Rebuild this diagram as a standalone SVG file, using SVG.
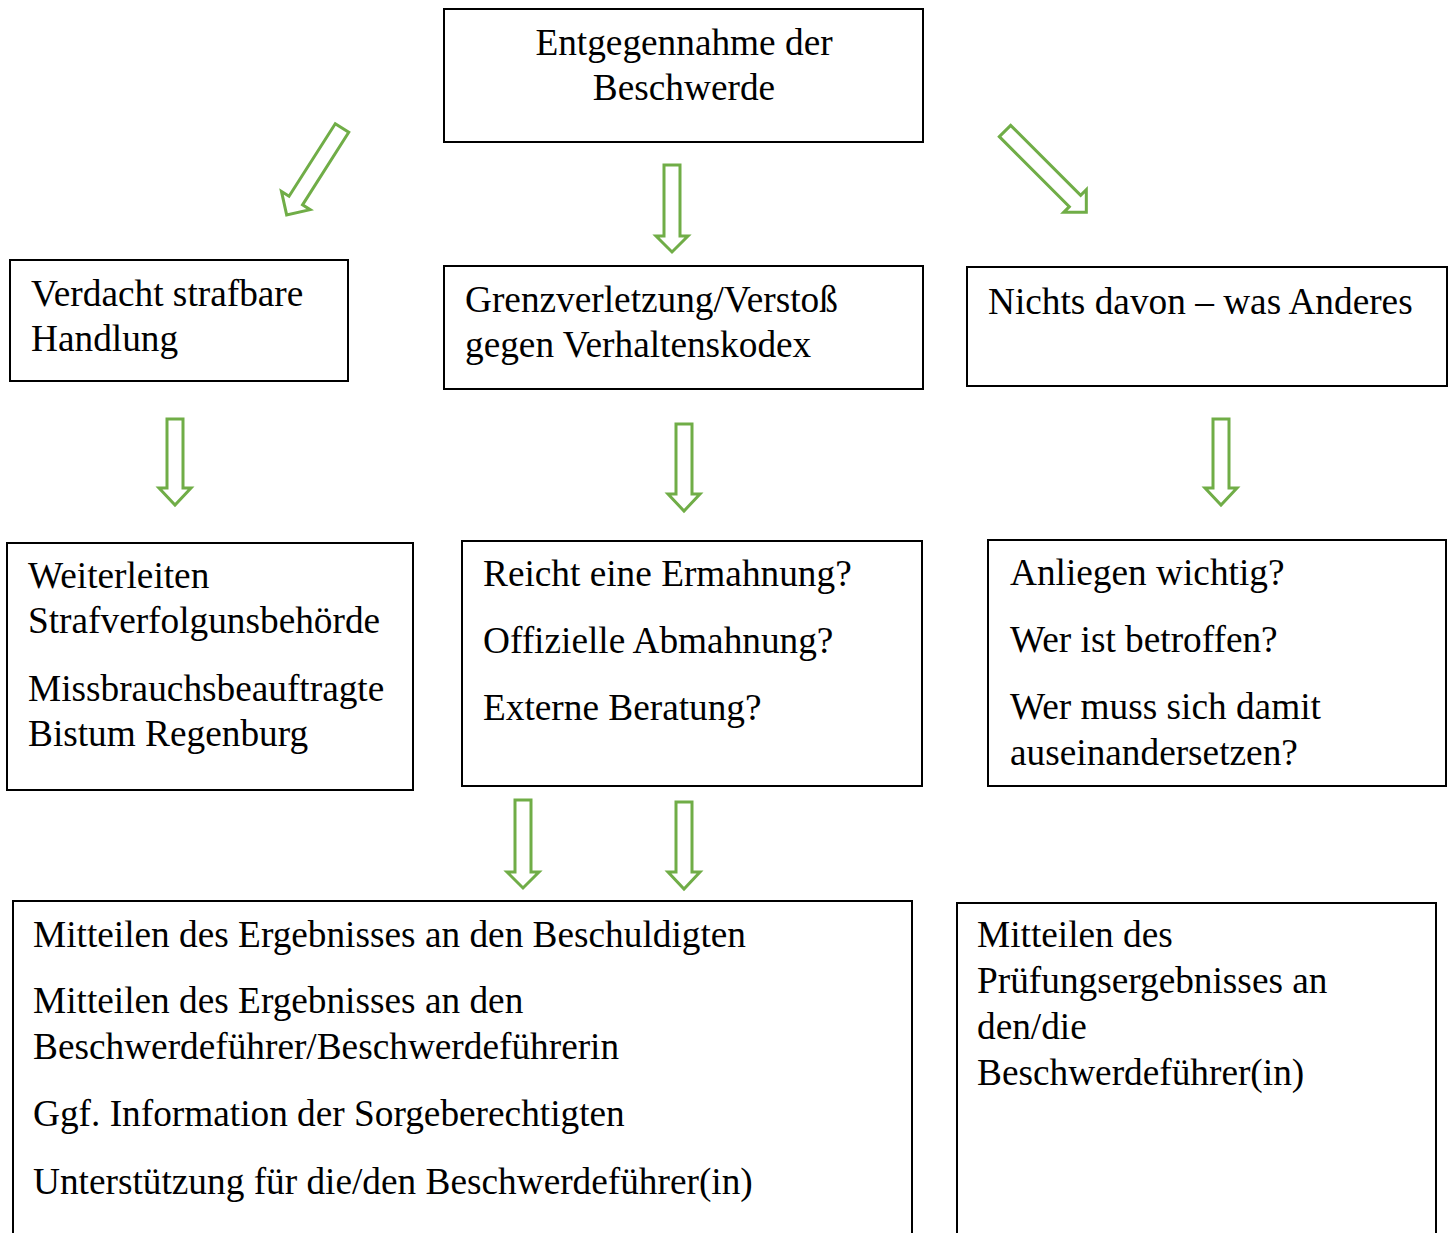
<svg xmlns="http://www.w3.org/2000/svg" width="1448" height="1233" viewBox="0 0 1448 1233">
<defs>
<style>
.box{fill:#fff;stroke:#000;stroke-width:2}
.t{font-family:"Liberation Serif","Times New Roman",serif;font-size:37.3px;fill:#000}
.arr{fill:#fff;stroke:#70ad47;stroke-width:3;stroke-linejoin:miter}
</style>
</defs>
<rect width="1448" height="1233" fill="#fff"/>
<g id="connectors">
<path class="arr" transform="translate(342,128) rotate(32.5)" d="M-8,0 L8,0 L8,86 L17,86 L0,103 L-17,86 L-8,86 Z"/>
<path class="arr" transform="translate(672,165)" d="M-8,0 L8,0 L8,71 L16,71 L0,87 L-16,71 L-8,71 Z"/>
<path class="arr" transform="translate(1005,131) rotate(-45)" d="M-8,0 L8,0 L8,99 L16,99 L0,115 L-16,99 L-8,99 Z"/>
<path class="arr" transform="translate(175,419)" d="M-8,0 L8,0 L8,69 L16,69 L0,86 L-16,69 L-8,69 Z"/>
<path class="arr" transform="translate(684,424)" d="M-8,0 L8,0 L8,70 L16,70 L0,87 L-16,70 L-8,70 Z"/>
<path class="arr" transform="translate(1221,419)" d="M-8,0 L8,0 L8,69 L16,69 L0,86 L-16,69 L-8,69 Z"/>
<path class="arr" transform="translate(523,800)" d="M-8,0 L8,0 L8,72 L16,72 L0,88 L-16,72 L-8,72 Z"/>
<path class="arr" transform="translate(684,802)" d="M-8,0 L8,0 L8,70 L16,70 L0,87 L-16,70 L-8,70 Z"/>
</g>
<g id="n_entgegennahme">
<rect class="box" x="444" y="9" width="479" height="133"/>
<text class="t" x="684" y="55" text-anchor="middle">Entgegennahme der</text>
<text class="t" x="684" y="100" text-anchor="middle">Beschwerde</text>
</g>
<g id="n_verdacht">
<rect class="box" x="10" y="260" width="338" height="121"/>
<text class="t" x="31" y="306">Verdacht strafbare</text>
<text class="t" x="31" y="351">Handlung</text>
</g>
<g id="n_grenz">
<rect class="box" x="444" y="266" width="479" height="123"/>
<text class="t" x="465" y="312">Grenzverletzung/Verstoß</text>
<text class="t" x="465" y="357">gegen Verhaltenskodex</text>
</g>
<g id="n_nichts">
<rect class="box" x="967" y="267" width="480" height="119"/>
<text class="t" x="988" y="314">Nichts davon – was Anderes</text>
</g>
<g id="n_weiterleiten">
<rect class="box" x="7" y="543" width="406" height="247"/>
<text class="t" x="28" y="588">Weiterleiten</text>
<text class="t" x="28" y="633">Strafverfolgunsbehörde</text>
<text class="t" x="28" y="701">Missbrauchsbeauftragte</text>
<text class="t" x="28" y="746">Bistum Regenburg</text>
</g>
<g id="n_reicht">
<rect class="box" x="462" y="541" width="460" height="245"/>
<text class="t" x="483" y="586">Reicht eine Ermahnung?</text>
<text class="t" x="483" y="653">Offizielle Abmahnung?</text>
<text class="t" x="483" y="720">Externe Beratung?</text>
</g>
<g id="n_anliegen">
<rect class="box" x="988" y="540" width="458" height="246"/>
<text class="t" x="1010" y="585">Anliegen wichtig?</text>
<text class="t" x="1010" y="652">Wer ist betroffen?</text>
<text class="t" x="1010" y="719">Wer muss sich damit</text>
<text class="t" x="1010" y="765">auseinandersetzen?</text>
</g>
<g id="n_mitteilen">
<rect class="box" x="13" y="901" width="899" height="340"/>
<text class="t" x="33" y="947">Mitteilen des Ergebnisses an den Beschuldigten</text>
<text class="t" x="33" y="1013">Mitteilen des Ergebnisses an den</text>
<text class="t" x="33" y="1059">Beschwerdeführer/Beschwerdeführerin</text>
<text class="t" x="33" y="1126">Ggf. Information der Sorgeberechtigten</text>
<text class="t" x="33" y="1194">Unterstützung für die/den Beschwerdeführer(in)</text>
</g>
<g id="n_pruefung">
<rect class="box" x="957" y="903" width="479" height="340"/>
<text class="t" x="977" y="947">Mitteilen des</text>
<text class="t" x="977" y="993">Prüfungsergebnisses an</text>
<text class="t" x="977" y="1039">den/die</text>
<text class="t" x="977" y="1085">Beschwerdeführer(in)</text>
</g>
</svg>
